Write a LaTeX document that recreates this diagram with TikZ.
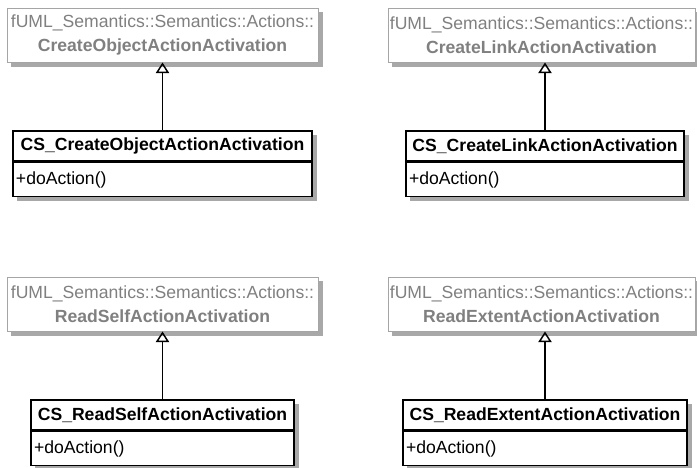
\documentclass[tikz,border=0pt]{standalone}
\usepackage{fontspec}
\setmainfont{Liberation Sans}
\usetikzlibrary{positioning,backgrounds,arrows.meta}
\definecolor{basetext}{RGB}{128,128,128}
\definecolor{baseedge}{RGB}{165,165,165}
\definecolor{shadowgray}{RGB}{168,168,168}

\begin{document}
\begin{tikzpicture}[x=0.75pt,y=-0.75pt,
	base/.style={draw=baseedge,line width=0.75pt,fill=white,text=basetext,minimum width=#1,minimum height=40.5pt,inner sep=0pt,align=center,font=\fontsize{13.2}{18}\selectfont},
	cname/.style={draw=black,line width=1.1pt,fill=white,minimum width=#1,minimum height=22.5pt,inner sep=0pt,font=\fontsize{13.2}{16}\selectfont\bfseries},
	cops/.style={draw=black,line width=1.1pt,fill=white,text width=#1,minimum height=25.5pt,inner xsep=2.25pt,inner ysep=0pt,align=left,font=\fontsize{13.2}{16}\selectfont},
	inherit/.style={draw=black,line width=1.1pt,-{Triangle[open,length=8pt,width=10pt]}}]
	\useasboundingbox (0,0) rectangle (697,468);
	% superclasses from fUML
	\node[base=233.25pt] (createobj) at (162.5,35) {fUML\_Semantics::Semantics::Actions::\\\textbf{CreateObjectActionActivation}};
	\node[base=230.25pt] (createlink) at (541.5,35) {fUML\_Semantics::Semantics::Actions::\\\textbf{CreateLinkActionActivation}};
	\node[base=233.25pt] (readself) at (162.5,304) {fUML\_Semantics::Semantics::Actions::\\\textbf{ReadSelfActionActivation}};
	\node[base=230.25pt] (readextent) at (541.5,304) {fUML\_Semantics::Semantics::Actions::\\\textbf{ReadExtentActionActivation}};
	% CS classes
	\node[cname=224.25pt] (cscreateobj) at (162.5,146) {CS\_CreateObjectActionActivation};
	\node[cops=219.75pt, below=0pt of cscreateobj] (cscreateobjops) {+doAction()};
	\node[cname=208.5pt] (cscreatelink) at (545,146) {CS\_CreateLinkActionActivation};
	\node[cops=204pt, below=0pt of cscreatelink] (cscreatelinkops) {+doAction()};
	\node[cname=197.25pt] (csreadself) at (162.5,415) {CS\_ReadSelfActionActivation};
	\node[cops=192.75pt, below=0pt of csreadself] (csreadselfops) {+doAction()};
	\node[cname=213pt] (csreadextent) at (545,415) {CS\_ReadExtentActionActivation};
	\node[cops=208.5pt, below=0pt of csreadextent] (csreadextentops) {+doAction()};
	% shadows
	\begin{scope}[on background layer]
		\foreach \upper/\lower in {createobj/createobj,createlink/createlink,readself/readself,readextent/readextent,cscreateobj/cscreateobjops,cscreatelink/cscreatelinkops,csreadself/csreadselfops,csreadextent/csreadextentops}
			\fill[shadowgray] ([shift={(3.2pt,-3.2pt)}]\lower.south west) rectangle ([shift={(3.2pt,-3.2pt)}]\upper.north east);
	\end{scope}
	% generalizations
	\draw[inherit] (cscreateobj.north) -- (cscreateobj.north |- createobj.south);
	\draw[inherit] (cscreatelink.north) -- (cscreatelink.north |- createlink.south);
	\draw[inherit] (csreadself.north) -- (csreadself.north |- readself.south);
	\draw[inherit] (csreadextent.north) -- (csreadextent.north |- readextent.south);
\end{tikzpicture}
\end{document}
